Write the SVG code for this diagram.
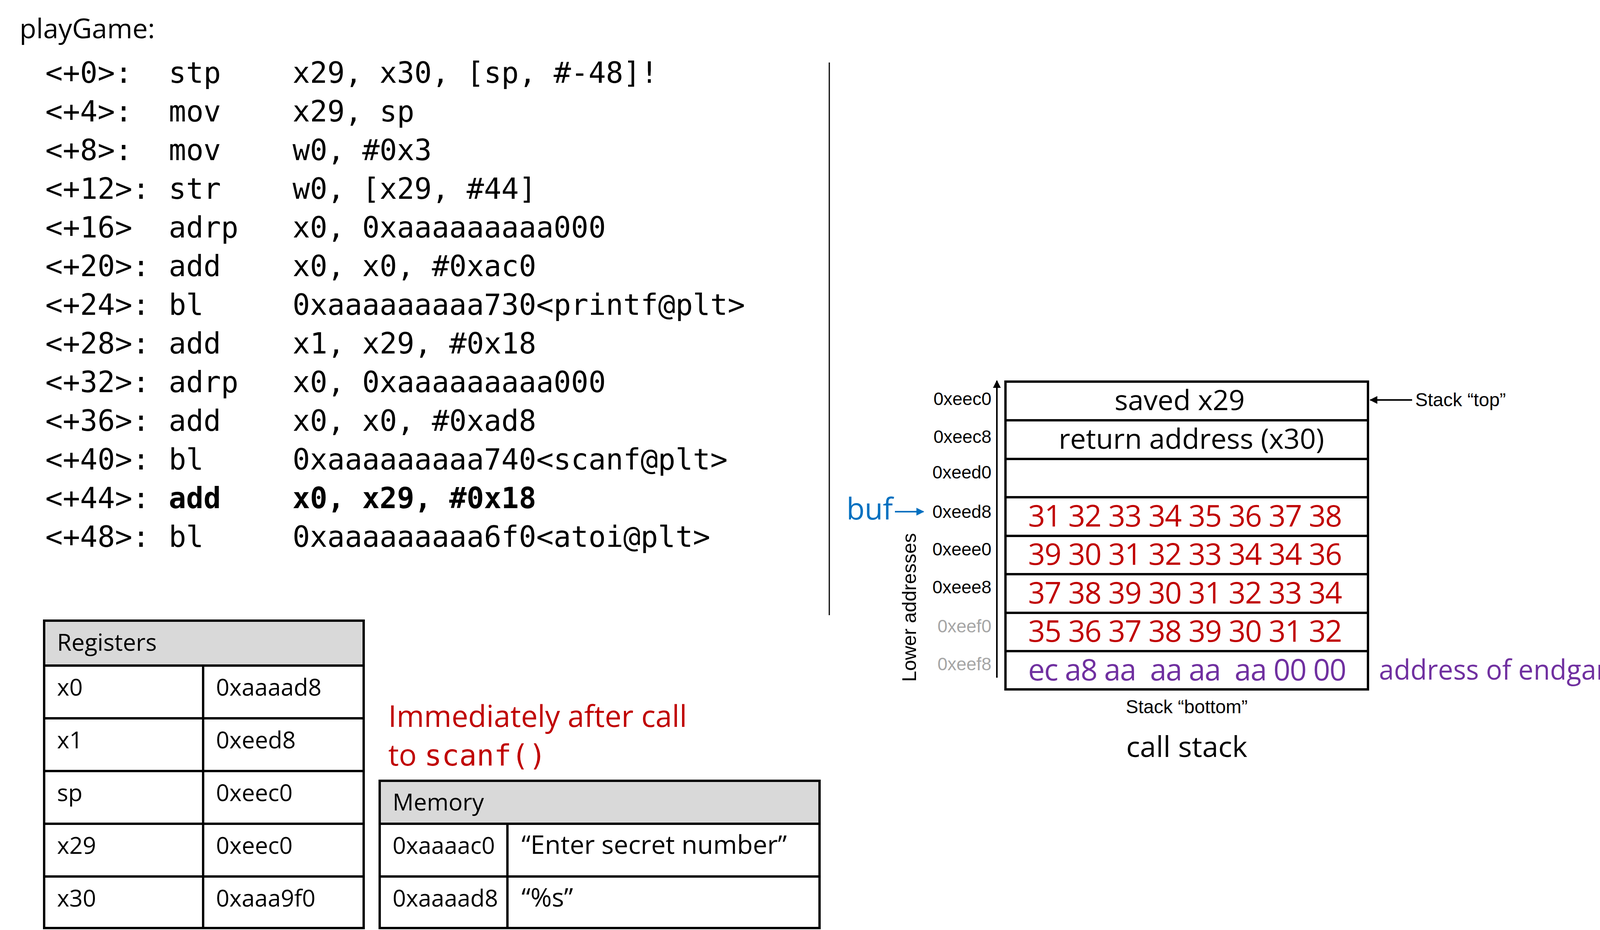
<svg xmlns="http://www.w3.org/2000/svg" width="4295" height="2381" viewBox="0 0 4295 2381">
<style>
.t{font-family:"Open Sans","Noto Sans",sans-serif;fill:#000}
.m{font-family:"DejaVu Sans Mono","Liberation Mono",monospace;font-size:74px;fill:#000}
.c{font-size:60px}
.b{fill:none;stroke:#000;stroke-width:6}
.a{font-family:"Liberation Sans",Arial,sans-serif;font-size:46px;text-anchor:end}
.r{font-family:"Open Sans","Noto Sans",sans-serif;font-size:76px;fill:#C00000}
</style>
<defs>
<marker id="ah" viewBox="0 0 10 10" refX="9" refY="5" markerWidth="5" markerHeight="5" orient="auto"><path d="M0,0L10,5L0,10z" fill="#000"/></marker>
<marker id="ahb" viewBox="0 0 10 10" refX="9" refY="5" markerWidth="5" markerHeight="5" orient="auto"><path d="M0,0L10,5L0,10z" fill="#0070C0"/></marker>
</defs>
<rect width="4295" height="2381" fill="#fff"/>
<g id="code">
<text class="t" x="50" y="98" font-size="70">playGame:</text>
<g class="m">
<text x="116" y="212">&lt;+0&gt;:</text><text x="432" y="212">stp</text><text x="749" y="212">x29, x30, [sp, #-48]!</text>
<text x="116" y="311">&lt;+4&gt;:</text><text x="432" y="311">mov</text><text x="749" y="311">x29, sp</text>
<text x="116" y="410">&lt;+8&gt;:</text><text x="432" y="410">mov</text><text x="749" y="410">w0, #0x3</text>
<text x="116" y="509">&lt;+12&gt;:</text><text x="432" y="509">str</text><text x="749" y="509">w0, [x29, #44]</text>
<text x="116" y="608">&lt;+16&gt;</text><text x="432" y="608">adrp</text><text x="749" y="608">x0, 0xaaaaaaaaa000</text>
<text x="116" y="707">&lt;+20&gt;:</text><text x="432" y="707">add</text><text x="749" y="707">x0, x0, #0xac0</text>
<text x="116" y="806">&lt;+24&gt;:</text><text x="432" y="806">bl</text><text x="749" y="806">0xaaaaaaaaa730&lt;printf@plt&gt;</text>
<text x="116" y="905">&lt;+28&gt;:</text><text x="432" y="905">add</text><text x="749" y="905">x1, x29, #0x18</text>
<text x="116" y="1004">&lt;+32&gt;:</text><text x="432" y="1004">adrp</text><text x="749" y="1004">x0, 0xaaaaaaaaa000</text>
<text x="116" y="1103">&lt;+36&gt;:</text><text x="432" y="1103">add</text><text x="749" y="1103">x0, x0, #0xad8</text>
<text x="116" y="1202">&lt;+40&gt;:</text><text x="432" y="1202">bl</text><text x="749" y="1202">0xaaaaaaaaa740&lt;scanf@plt&gt;</text>
<text x="116" y="1301">&lt;+44&gt;:</text><text x="432" y="1301" font-weight="bold">add</text><text x="749" y="1301" font-weight="bold">x0, x29, #0x18</text>
<text x="116" y="1400">&lt;+48&gt;:</text><text x="432" y="1400">bl</text><text x="749" y="1400">0xaaaaaaaaa6f0&lt;atoi@plt&gt;</text>
</g>
<line x1="2123" y1="160" x2="2123" y2="1575" stroke="#000" stroke-width="3"/>
</g>
<g id="registers">
<rect x="113" y="1589" width="818" height="115" fill="#d9d9d9"/>
<rect class="b" x="113" y="1589" width="818" height="787"/>
<path class="b" d="M113 1704H931M113 1839H931M113 1974H931M113 2109H931M113 2244H931M520 1704V2376"/>
<g class="t c">
<text x="146" y="1666">Registers</text>
<text x="146" y="1781">x0</text><text x="553" y="1781">0xaaaad8</text>
<text x="146" y="1916">x1</text><text x="553" y="1916">0xeed8</text>
<text x="146" y="2051">sp</text><text x="553" y="2051">0xeec0</text>
<text x="146" y="2186">x29</text><text x="553" y="2186">0xeec0</text>
<text x="146" y="2321">x30</text><text x="553" y="2321">0xaaa9f0</text>
</g>
</g>
<g id="note">
<text class="r" x="994" y="1861">Immediately after call</text>
<text class="r" x="994" y="1960">to <tspan font-family="DejaVu Sans Mono,monospace" font-size="74">scanf()</tspan></text>
</g>
<g id="memory">
<rect x="972" y="1999" width="1126" height="110" fill="#d9d9d9"/>
<rect class="b" x="972" y="1999" width="1126" height="377"/>
<path class="b" d="M972 2109H2098M972 2244H2098M1299 2109V2376"/>
<g class="t c">
<text x="1005" y="2075">Memory</text>
<text x="1005" y="2186">0xaaaac0</text><text x="1335" y="2186" font-size="66">“Enter secret number”</text>
<text x="1005" y="2321">0xaaaad8</text><text x="1335" y="2321" font-size="66">“%s”</text>
</g>
</g>
<g id="stack">
<rect class="b" x="2574" y="977" width="928" height="788"/>
<path class="b" d="M2574 1076H3502M2574 1175H3502M2574 1273H3502M2574 1372H3502M2574 1470H3502M2574 1569H3502M2574 1667H3502"/>
<g class="t" font-size="72" text-anchor="middle">
<text x="3020" y="1050">saved x29</text>
<text x="3050" y="1149">return address (x30)</text>
</g>
<g class="r" font-size="78">
<text x="2632" y="1348" textLength="804">31 32 33 34 35 36 37 38</text>
<text x="2632" y="1446" textLength="804">39 30 31 32 33 34 34 36</text>
<text x="2632" y="1545" textLength="804">37 38 39 30 31 32 33 34</text>
<text x="2632" y="1643" textLength="804">35 36 37 38 39 30 31 32</text>
<text x="2632" y="1742" textLength="815" style="fill:#7030A0" xml:space="preserve">ec a8 aa  aa aa  aa 00 00</text>
</g>
<g class="a">
<text x="2538" y="1037">0xeec0</text>
<text x="2538" y="1134">0xeec8</text>
<text x="2538" y="1225">0xeed0</text>
<text x="2538" y="1326">0xeed8</text>
<text x="2538" y="1422">0xeee0</text>
<text x="2538" y="1519">0xeee8</text>
<text x="2538" y="1619" fill="#a6a6a6">0xeef0</text>
<text x="2538" y="1716" fill="#a6a6a6">0xeef8</text>
</g>
<text x="2345" y="1555" font-family="Liberation Sans,Arial,sans-serif" font-size="50" text-anchor="middle" transform="rotate(-90 2345 1555)">Lower addresses</text>
<text class="t" x="2167" y="1330" font-size="76" style="fill:#0070C0">buf</text>
<text x="3038" y="1826" font-family="Liberation Sans,Arial,sans-serif" font-size="48" text-anchor="middle">Stack “bottom”</text>
<text class="t" x="3038" y="1938" font-size="74" text-anchor="middle">call stack</text>
<text x="3623" y="1040" font-family="Liberation Sans,Arial,sans-serif" font-size="48">Stack “top”</text>
<text class="t" x="3530" y="1740" font-size="72" textLength="700" lengthAdjust="spacingAndGlyphs" style="fill:#7030A0">address of endgame()</text>
</g>
<g id="connectors">
<line x1="2552" y1="1735" x2="2552" y2="975" stroke="#000" stroke-width="4" marker-end="url(#ah)"/>
<line x1="3615" y1="1024" x2="3508" y2="1024" stroke="#000" stroke-width="4" marker-end="url(#ah)"/>
<line x1="2291" y1="1310" x2="2364" y2="1310" stroke="#0070C0" stroke-width="4" marker-end="url(#ahb)"/>
</g>
</svg>
